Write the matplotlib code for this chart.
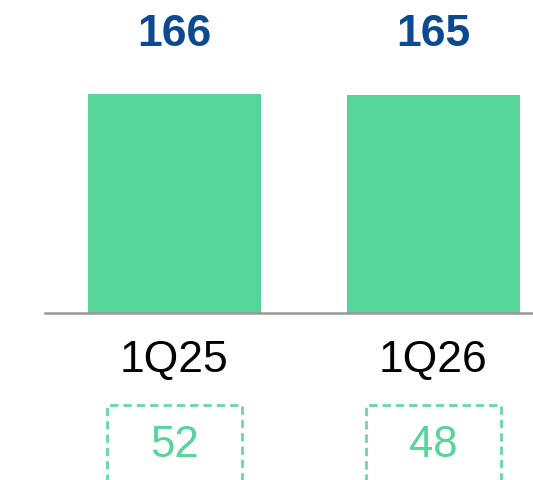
import matplotlib
matplotlib.use("Agg")
import matplotlib.pyplot as plt
from matplotlib.patches import Rectangle

# Daten
categories = ["1Q25", "1Q26"]
values = [166, 165]
sub_values = [52, 48]

green = "#55D598"
navy = "#0B4A91"

plt.rcParams['font.family'] = ['Liberation Sans', 'DejaVu Sans']

fig = plt.figure(figsize=(5.33, 4.81), dpi=100)
ax = fig.add_axes([0, 0, 1, 1])
ax.set_xlim(-0.6737, 1.3842)
ax.set_ylim(-126.6, 238.0)
ax.axis('off')

x = range(len(categories))
ax.bar(x, values, width=0.668, color=green, zorder=2)
ax.axhline(0, xmin=45/533, xmax=1, color="#999999", lw=1.8, zorder=3)

for i, (cat, v, s) in enumerate(zip(categories, values, sub_values)):
    ax.text(i, 211.5, str(v), ha='center', va='center', fontsize=32,
            fontweight='bold', color=navy)
    ax.text(i, -35.5, cat, ha='center', va='center', fontsize=32, color='black')
    ax.text(i, -100, str(s), ha='center', va='center', fontsize=31.5, color=green)
    # gestrichelte Box
    ax.add_patch(Rectangle((i - 0.26, -140), 0.52, 140 - 69.7, fill=False,
                           edgecolor=green, lw=2, ls=(0, (3, 1.8)), alpha=0.9))

plt.savefig("out.png", dpi=100)
